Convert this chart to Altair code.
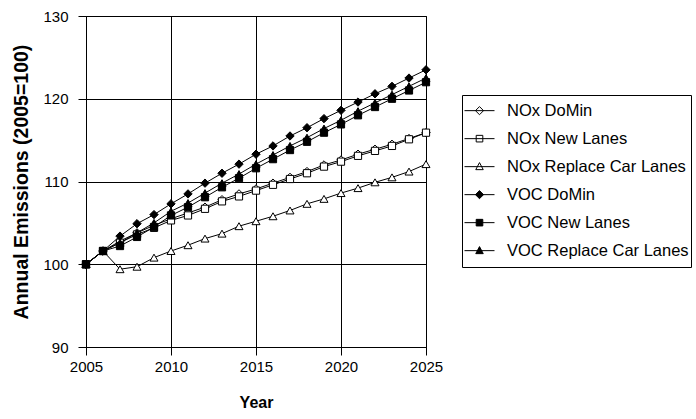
import altair as alt
import pandas as pd

# Emission index by year for each scenario (2005 = 100)
years = list(range(2005, 2026))

series_names = [
    "NOx DoMin",
    "NOx New Lanes",
    "NOx Replace Car Lanes",
    "VOC DoMin",
    "VOC New Lanes",
    "VOC Replace Car Lanes",
]

nox_domin = [100, 101.6, 102.8, 103.8, 104.7, 105.5, 106.2, 106.9, 107.8, 108.5, 109.1,
             109.8, 110.5, 111.2, 112.0, 112.6, 113.3, 113.9, 114.5, 115.2, 115.9]
nox_new_lanes = [100, 101.6, 102.6, 103.6, 104.4, 105.3, 105.9, 106.7, 107.6, 108.2, 108.9,
                 109.6, 110.3, 111.0, 111.8, 112.4, 113.1, 113.7, 114.3, 115.1, 115.9]
nox_replace = [100, 101.6, 99.4, 99.7, 100.8, 101.6, 102.3, 103.1, 103.7, 104.6, 105.2,
               105.8, 106.5, 107.3, 107.9, 108.6, 109.2, 109.9, 110.5, 111.2, 112.1]
voc_domin = [100, 101.6, 103.4, 104.9, 106.0, 107.3, 108.5, 109.8, 111.0, 112.1, 113.3,
             114.3, 115.5, 116.5, 117.6, 118.6, 119.6, 120.6, 121.5, 122.5, 123.5]
voc_new_lanes = [100, 101.6, 102.2, 103.3, 104.5, 105.9, 106.9, 108.1, 109.3, 110.4, 111.6,
                 112.7, 113.8, 114.8, 115.9, 116.9, 118.0, 119.0, 120.0, 121.0, 122.0]
voc_replace = [100, 101.6, 102.6, 103.8, 105.0, 106.4, 107.4, 108.6, 109.8, 110.9, 112.1,
               113.2, 114.3, 115.3, 116.4, 117.4, 118.5, 119.5, 120.5, 121.5, 122.5]

series_values = [nox_domin, nox_new_lanes, nox_replace, voc_domin, voc_new_lanes, voc_replace]

# Marker styling per series
marker_shapes = ["diamond", "square", "triangle-up", "diamond", "square", "triangle-up"]
marker_fills = ["white", "white", "white", "black", "black", "black"]
marker_sizes = [70, 52, 64, 70, 52, 64]

# Legend symbols: a short line segment with the marker in its middle
legend_paths = [
    "M-1,0L1,0M0,-0.27L0.27,0L0,0.27L-0.27,0Z",
    "M-1,0L1,0M-0.22,-0.22L0.22,-0.22L0.22,0.22L-0.22,0.22Z",
    "M-1,0L1,0M0,-0.27L0.25,0.2L-0.25,0.2Z",
    "M-1,0L1,0M0,-0.27L0.27,0L0,0.27L-0.27,0Z",
    "M-1,0L1,0M-0.22,-0.22L0.22,-0.22L0.22,0.22L-0.22,0.22Z",
    "M-1,0L1,0M0,-0.27L0.25,0.2L-0.25,0.2Z",
]

rows = []
for name, vals in zip(series_names, series_values):
    for yr, v in zip(years, vals):
        rows.append({"Year": yr, "Series": name, "Value": v})
df = pd.DataFrame(rows)

x_enc = alt.X(
    "Year:Q",
    scale=alt.Scale(domain=[2005, 2025], nice=False, zero=False),
    axis=alt.Axis(values=[2005, 2010, 2015, 2020, 2025], format="d", title="Year",
                  labelPadding=4, titlePadding=20, labelFlush=False, labelOverlap=False),
)
y_enc = alt.Y(
    "Value:Q",
    scale=alt.Scale(domain=[90, 130], nice=False, zero=False),
    axis=alt.Axis(values=[90, 100, 110, 120, 130], title="Annual Emissions (2005=100)",
                  labelPadding=10, titlePadding=11, titleFontSize=19.5,
                  labelFlush=False, labelOverlap=False),
)

base = alt.Chart(df)

layers = []
for name, shape, fill, size in zip(series_names, marker_shapes, marker_fills, marker_sizes):
    sel = base.transform_filter(alt.datum.Series == name)
    layers.append(sel.mark_line(color="black", strokeWidth=1).encode(x=x_enc, y=y_enc))
    layers.append(
        sel.mark_point(shape=shape, filled=True, fill=fill, stroke="black",
                       strokeWidth=1, size=size, opacity=1).encode(x=x_enc, y=y_enc)
    )

legend = alt.Legend(
    title=None,
    orient="none",
    legendX=376,
    legendY=79,
    symbolSize=900,
    symbolStrokeColor="black",
    symbolStrokeWidth=1,
    symbolOpacity=1,
    labelFont="Liberation Sans",
    labelFontSize=16.5,
    labelColor="black",
    labelOffset=12,
    labelLimit=400,
    padding=2,
    strokeColor="black",
    fillColor="white",
    clipHeight=27.3,
    rowPadding=0,
)

legend_layer = base.transform_filter("false").mark_point(
    filled=True, strokeWidth=1, opacity=1
).encode(
    x=x_enc,
    y=y_enc,
    shape=alt.Shape("Series:N", scale=alt.Scale(domain=series_names, range=legend_paths),
                    legend=legend),
    fill=alt.Fill("Series:N", scale=alt.Scale(domain=series_names, range=marker_fills),
                  legend=legend),
    stroke=alt.Stroke("Series:N", scale=alt.Scale(domain=series_names, range=["black"] * 6),
                      legend=legend),
)
layers.append(legend_layer)

chart = alt.layer(*layers).properties(
    width=340,
    height=331,
    padding={"left": 86, "top": 16, "right": 270, "bottom": 72},
    autosize=alt.AutoSizeParams(type="none"),
    background="white",
).configure_view(
    stroke="black", strokeWidth=1
).configure_axis(
    grid=True,
    gridColor="black",
    gridOpacity=1,
    gridWidth=1,
    domainColor="black",
    tickColor="black",
    tickSize=8,
    labelFont="Liberation Sans",
    labelFontSize=15,
    labelColor="black",
    titleFont="Liberation Sans",
    titleFontSize=16,
    titleFontWeight="bold",
    titleColor="black",
)

chart.save("out.html", embed_options={"renderer": "svg", "actions": False})
